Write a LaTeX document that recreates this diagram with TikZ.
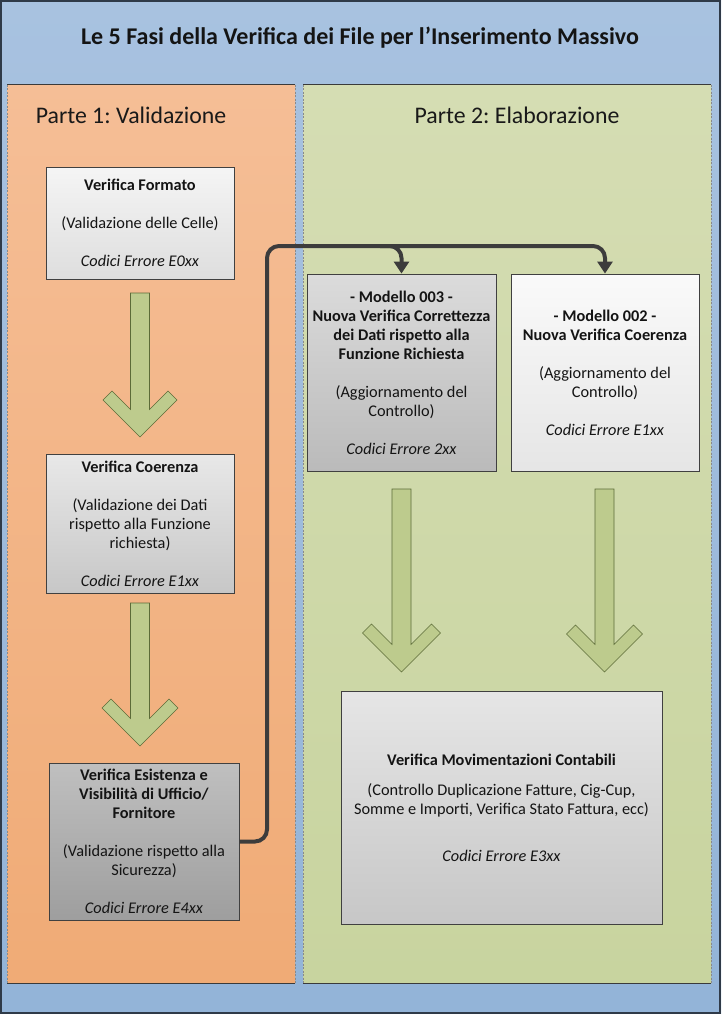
\documentclass[tikz,border=0pt]{standalone}
\usepackage{fontspec}
\setmainfont{Carlito}
\frenchspacing
\usetikzlibrary{arrows.meta}
\definecolor{bgtop}{HTML}{A8C2E0}
\definecolor{bgbot}{HTML}{93B4D8}
\definecolor{frame}{HTML}{2F3A48}
\definecolor{ortop}{HTML}{F5BE96}
\definecolor{orbot}{HTML}{F0AB76}
\definecolor{grtop}{HTML}{D5DDB3}
\definecolor{grbot}{HTML}{C8D49F}
\definecolor{edge}{HTML}{3A3A3A}
\definecolor{sideedge}{HTML}{8A8A8A}
\definecolor{boxline}{HTML}{404040}
\definecolor{conncol}{HTML}{3C3C3C}
\definecolor{garfill}{HTML}{BDCB8D}
\definecolor{garline}{HTML}{5C6B38}
\tikzset{
  panelside/.style={draw=sideedge, line width=0.6pt, dash pattern=on 2pt off 1.5pt},
  paneledge/.style={draw=edge, line width=1pt},
  stepbox/.style={draw=boxline, line width=0.9pt, align=center, inner sep=0pt,
    font=\fontsize{16.3}{19}\selectfont, text=black!92},
  conn/.style={draw=conncol, line width=4pt, rounded corners=12pt,
    -{Triangle[width=15pt,length=12pt]}},
  partlabel/.style={font=\fontsize{23.8}{26}\selectfont, text=black!90},
  garrow/.style={fill=garfill, draw=garline, line width=0.6pt, line join=miter}
}
\newcommand\greenarrow[4]{% cx, ytop, ytip, a
  \path[garrow] ({#1-9.5},#2) -- ({#1-9.5},{#3-27.5}) -- ({#1-#4+9},{#3-#4-9})
    -- ({#1-#4},{#3-#4}) -- (#1,#3) -- ({#1+#4},{#3-#4}) -- ({#1+#4-9},{#3-#4-9})
    -- ({#1+9.5},{#3-27.5}) -- ({#1+9.5},#2) -- cycle;}
\begin{document}
\begin{tikzpicture}[x=1pt,y=-1pt]
\useasboundingbox (0,0) rectangle (721,1014);
% background
\shade[top color=bgtop,bottom color=bgbot] (0,0) rectangle (721,1014);
\draw[frame, line width=1.6pt] (0.8,0.8) rectangle (720.2,1013.2);
% panels
\shade[top color=ortop,bottom color=orbot] (7,85) rectangle (295,983);
\shade[top color=grtop,bottom color=grbot] (303,85) rectangle (711,983);
\draw[panelside] (7,85) -- (7,983) (295,85) -- (295,983);
\draw[panelside] (303,85) -- (303,983) (711,85) -- (711,983);
\draw[paneledge] (7,85) -- (295,85) (7,983) -- (295,983);
\draw[paneledge] (303,85) -- (711,85) (303,983) -- (711,983);
% titles
\node[font=\fontsize{24}{28}\selectfont\bfseries, text=black!92] (title) at (360,38)
  {Le 5 Fasi della Verifica dei File per l’Inserimento Massivo};
\node[partlabel] (p1) at (131,115) {Parte 1: Validazione};
\node[partlabel] (p2) at (517,115) {Parte 2: Elaborazione};
% boxes
\node[stepbox, minimum width=188pt, minimum height=112pt,
  top color=black!4, bottom color=black!13] (b1) at (140,223)
  {\textbf{Verifica Formato}\\[19pt](Validazione delle Celle)\\[19pt]\textit{Codici Errore E0xx}};
\node[stepbox, minimum width=188pt, minimum height=139pt,
  top color=black!9, bottom color=black!22] (b2) at (140,523.5)
  {\textbf{Verifica Coerenza}\\[19pt](Validazione dei Dati\\rispetto alla Funzione\\richiesta)\\[19pt]\textit{Codici Errore E1xx}};
\node[stepbox, minimum width=190pt, minimum height=157pt,
  top color=black!25, bottom color=black!38] (b3) at (144,841.5)
  {\textbf{Verifica Esistenza e}\\\textbf{Visibilità di Ufficio/}\\\textbf{Fornitore}\\[19pt](Validazione rispetto alla\\Sicurezza)\\[19pt]\textit{Codici Errore E4xx}};
\node[stepbox, minimum width=189pt, minimum height=197pt,
  top color=black!14, bottom color=black!27] (b4) at (401.5,372.5)
  {\textbf{- Modello 003 -}\\\textbf{Nuova Verifica Correttezza}\\\textbf{dei Dati rispetto alla}\\\textbf{Funzione Richiesta}\\[19pt](Aggiornamento del\\Controllo)\\[19pt]\textit{Codici Errore 2xx}};
\node[stepbox, minimum width=188pt, minimum height=197pt,
  top color=black!2, bottom color=black!10] (b5) at (605,372.5)
  {\textbf{- Modello 002 -}\\\textbf{Nuova Verifica Coerenza}\\[19pt](Aggiornamento del\\Controllo)\\[19pt]\textit{Codici Errore E1xx}};
\node[stepbox, minimum width=321pt, minimum height=233pt,
  top color=black!10, bottom color=black!22] (b6) at (501.5,807.5)
  {\textbf{Verifica Movimentazioni Contabili}\\[11pt](Controllo Duplicazione Fatture, Cig-Cup,\\Somme e Importi, Verifica Stato Fattura, ecc)\\[28pt]\textit{Codici Errore E3xx}};
% green block arrows
\greenarrow{140}{293}{437}{37}
\greenarrow{140}{603}{746}{38}
\greenarrow{401.5}{489}{672}{39}
\greenarrow{604.5}{489}{672}{38}
% connectors
\coordinate (turn) at (267,246);
\coordinate (split) at (380,246);
\draw[conn] (b3.east) -| (turn) -| (b4.north);
\draw[conn] (split) -| (b5.north);
\end{tikzpicture}
\end{document}
